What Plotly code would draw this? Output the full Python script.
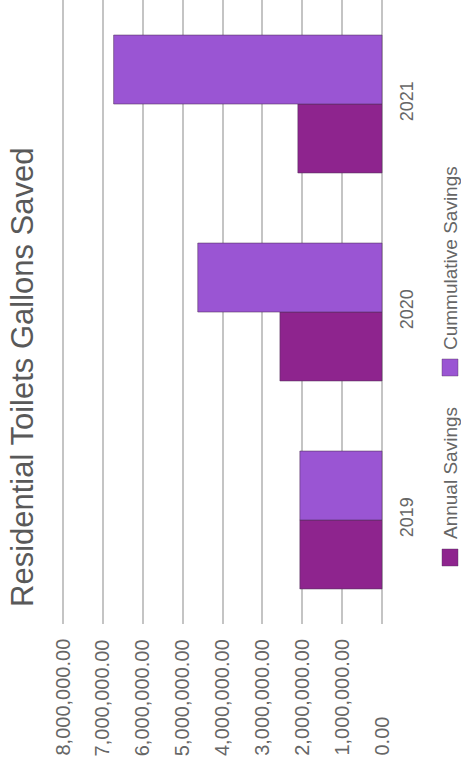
import plotly.graph_objects as go

# Gallons saved by residential toilet replacements
years = ["2019", "2020", "2021"]
annual_savings = [2060000, 2560000, 2110000]
cumulative_savings = [2060000, 4620000, 6730000]
value_ticks = [0, 1000000, 2000000, 3000000, 4000000, 5000000, 6000000, 7000000, 8000000]
value_tick_labels = ["0.00", "1,000,000.00", "2,000,000.00", "3,000,000.00", "4,000,000.00",
                     "5,000,000.00", "6,000,000.00", "7,000,000.00", "8,000,000.00"]
series_names = ["Annual Savings", "Cummulative Savings"]
series_colors = ["#8e248e", "#9a55d3"]

W, H = 461, 766
L, R, T, B = 61, 77, 0, 142
plot_w = W - L - R
plot_h = H - T - B
# small padding so the outermost grid lines are drawn inside the plot area
pad = 0.0502e6

def px_x(px):
    return (px - L) / plot_w

def px_y(py):
    return (H - B - py) / plot_h

FONT = "Liberation Sans, Arial, sans-serif"
TEXT_GREY = "#666666"

fig = go.Figure()
for name, vals, color in zip(series_names, [annual_savings, cumulative_savings], series_colors):
    fig.add_trace(go.Bar(
        y=years, x=vals, name=name, orientation="h",
        marker=dict(color=color, line=dict(color="rgba(80,50,90,0.55)", width=1)),
        showlegend=False,
    ))

annotations = []
# value labels, rotated, aligned at their starting edge below the plot
for v, lab in zip(value_ticks, value_tick_labels):
    annotations.append(dict(
        x=v, xref="x", y=px_y(758), yref="paper", text=lab, textangle=-90,
        xanchor="center", yanchor="bottom", showarrow=False,
        font=dict(family=FONT, size=20, color=TEXT_GREY),
    ))

# chart title
annotations.append(dict(
    x=px_x(22), y=px_y(377), xref="paper", yref="paper",
    text="Residential Toilets Gallons Saved", textangle=-90,
    xanchor="center", yanchor="middle", showarrow=False,
    font=dict(family=FONT, size=31, color="#595959"),
))

# legend entries
legend_text_centers = [473, 258]
legend_swatches = [(549, 566), (359, 376)]
shapes = []
for name, color, cy, (s0, s1) in zip(series_names, series_colors, legend_text_centers, legend_swatches):
    annotations.append(dict(
        x=px_x(450), y=px_y(cy), xref="paper", yref="paper",
        text=name, textangle=-90, xanchor="center", yanchor="middle", showarrow=False,
        font=dict(family=FONT, size=19, color=TEXT_GREY),
    ))
    shapes.append(dict(
        type="rect", xref="paper", yref="paper",
        x0=px_x(442), x1=px_x(458), y0=px_y(s1), y1=px_y(s0),
        fillcolor=color, line=dict(color="rgba(80,50,90,0.4)", width=1),
    ))

fig.update_layout(
    width=W, height=H,
    margin=dict(l=L, r=R, t=T, b=B),
    paper_bgcolor="white", plot_bgcolor="white",
    barmode="group", bargap=0.337, bargroupgap=0,
    annotations=annotations, shapes=shapes,
    xaxis=dict(
        range=[8000000 + pad, -pad], tickvals=value_ticks, showticklabels=False,
        showgrid=True, gridcolor="#c4c4c4", gridwidth=2,
        zeroline=True, zerolinecolor="#c4c4c4", zerolinewidth=2,
        showline=False, ticks="",
    ),
    yaxis=dict(
        side="right", tickangle=-90, showgrid=False, zeroline=False,
        showline=False, ticks="", ticklabelstandoff=10,
        tickfont=dict(family=FONT, size=18, color=TEXT_GREY),
    ),
)

fig.write_html("out.html")
